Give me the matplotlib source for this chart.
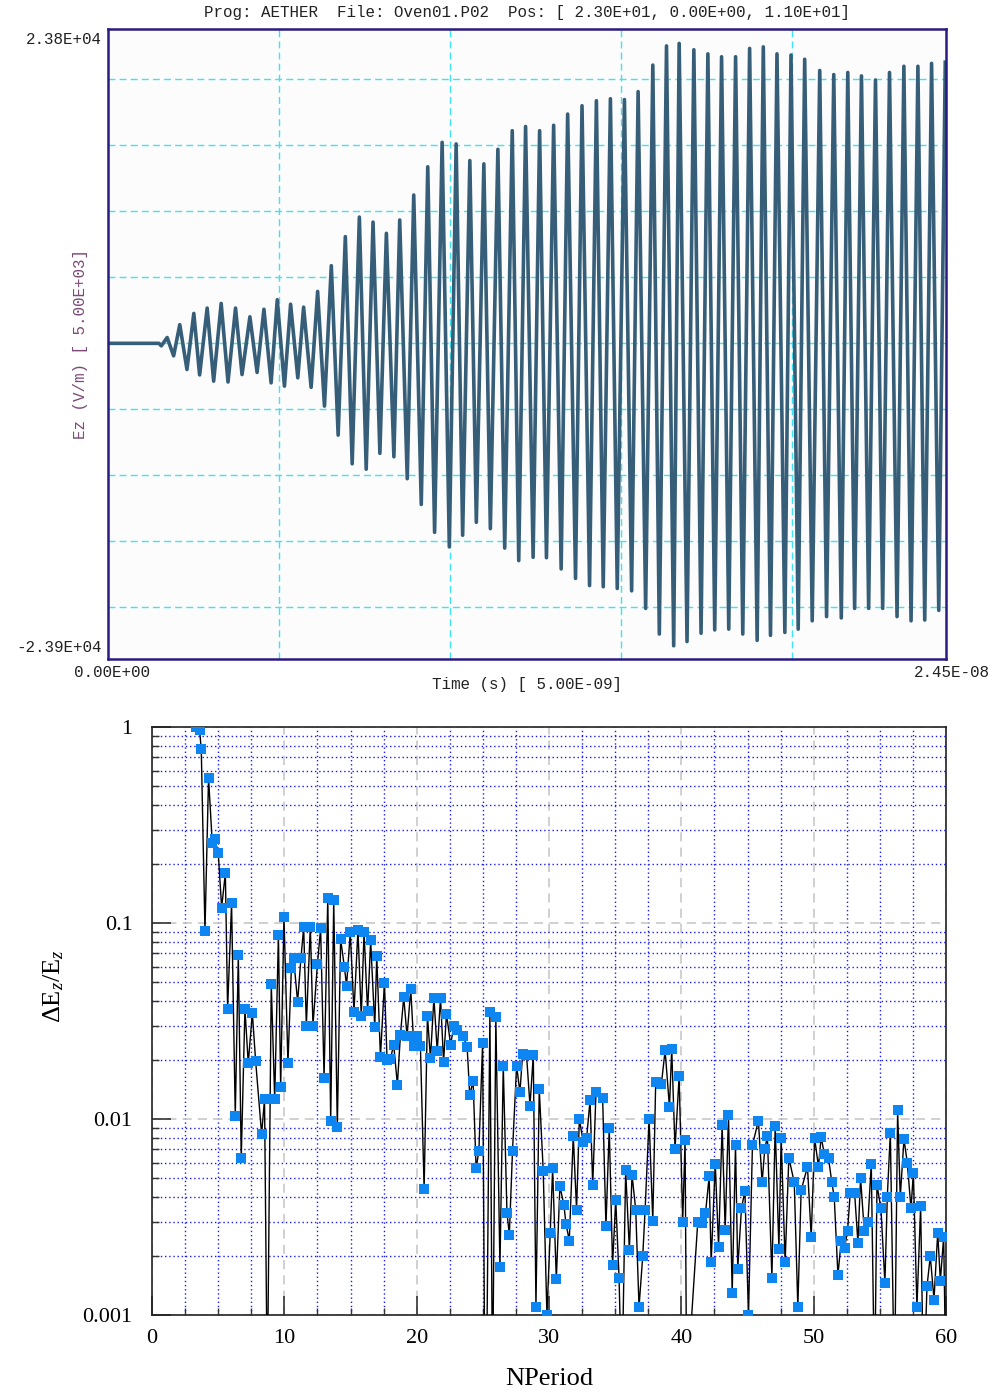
import numpy as np
from matplotlib import pyplot as plt
from matplotlib.ticker import MultipleLocator, LogLocator, NullFormatter

plt.rcParams['mathtext.fontset'] = 'custom'
plt.rcParams['mathtext.rm'] = 'Liberation Serif'
plt.rcParams['mathtext.it'] = 'Liberation Serif:italic'

# upper panel: Ez probe signal, one point per half-cycle extremum (time in ns)
t_ns = [0, 1.49, 1.56, 1.73, 1.92, 2.10, 2.31, 2.51, 2.68, 2.90, 3.09, 3.31,
        3.51, 3.73, 3.92, 4.15, 4.36, 4.56, 4.77, 4.95, 5.16, 5.34,
        5.55, 5.72, 5.94, 6.13, 6.33, 6.53, 6.73, 6.94, 7.14, 7.35,
        7.55, 7.75, 7.95, 8.14, 8.36, 8.53,
        8.75, 8.94, 9.16, 9.35, 9.55, 9.77, 9.98, 10.18, 10.37, 10.58,
        10.77, 10.99, 11.18, 11.40, 11.60, 11.82, 12.01, 12.21, 12.43, 12.62,
        12.82, 13.03, 13.25, 13.44, 13.67, 13.86, 14.08, 14.28, 14.48, 14.69,
        14.89, 15.10, 15.31, 15.50, 15.72, 15.93, 16.12, 16.33, 16.54, 16.70,
        16.93, 17.13, 17.34, 17.54, 17.74, 17.94, 18.15, 18.35, 18.56, 18.76,
        18.98, 19.16, 19.37, 19.56, 19.79, 19.97, 20.18, 20.37, 20.59, 20.81,
        21.01, 21.22, 21.44, 21.63, 21.83, 22.03, 22.24, 22.44, 22.65, 22.85,
        23.07, 23.27, 23.48, 23.68, 23.88, 24.08, 24.29, 24.48]
ez = [0, 0, -190, 440, -945, 1415, -1980, 2265, -2390, 2670, -2860, 3020,
      -2925, 2670, -2360, 2010, -2200, 2580, -2990, 3300, -3240, 2960,
      -2610, 2740, -3330, 3930, -4750, 5880, -6950, 8080, -9120, 9560,
      -9530, 9180, -8330, 8330, -8590, 9340,
      -10250, 11230, -12200, 13370, -14310, 15220, -15410, 15100, -14530, 13840,
      -13550, 13590, -14030, 14690, -15500, 16100, -16450, 16420, -16200, 16100,
      -16230, 16510, -17080, 17360, -17800, 17990, -18340, 18370, -18430, 18520,
      -18560, 18460, -18740, 19060, -20070, 21070, -22010, 22520, -22900, 22710,
      -22580, 22230, -21950, 21920, -21700, 21700, -21640, 21700, -22010, 22330,
      -22490, 22450, -22110, 21920, -21890, 21830, -21640, 21510, -21010, 20660,
      -20690, 20350, -20790, 20510, -20070, 20250, -20070, 19940, -20070, 20510,
      -20690, 20980, -21010, 20980, -20950, 21200, -20220, 21290]

# lower panel: relative change of Ez per period (4e-4 = below the axis)
nperiod = [3.29, 3.59, 3.72, 4.00, 4.27, 4.55, 4.75, 5.00, 5.26, 5.54,
           5.71, 6.01, 6.29, 6.52, 6.74, 7.02, 7.27, 7.58, 7.83, 8.28,
           8.50, 8.71, 9.01, 9.27, 9.55, 9.72, 9.97, 10.27, 10.53, 10.70,
           11.00, 11.25, 11.46, 11.66, 11.96, 12.16, 12.50, 12.74, 13.00, 13.28,
           13.50, 13.73, 14.00, 14.25, 14.53, 14.70, 14.98, 15.26, 15.56, 15.81,
           16.02, 16.29, 16.52, 16.83, 16.98, 17.26, 17.56, 17.76, 18.01, 18.26,
           18.54, 18.77, 19.02, 19.27, 19.55, 19.78, 20.03, 20.28, 20.56, 20.81,
           21.04, 21.30, 21.55, 21.80, 22.03, 22.25, 22.56, 22.81, 23.06, 23.51,
           23.81, 24.01, 24.26, 24.49, 24.70, 24.98, 25.15, 25.27, 25.53, 25.73,
           25.98, 26.29, 26.54, 26.82, 27.00, 27.24, 27.55, 27.80, 28.00, 28.30,
           28.56, 28.81, 29.01, 29.26, 29.56, 29.84, 30.09, 30.27, 30.55, 30.82,
           31.12, 31.28, 31.53, 31.83, 32.08, 32.29, 32.59, 32.84, 33.10, 33.30,
           33.55, 34.05, 34.30, 34.55, 34.80, 35.04, 35.29, 35.50, 35.79, 36.07,
           36.27, 36.55, 36.80, 37.08, 37.26, 37.56, 37.84, 38.06, 38.49, 38.77,
           39.10, 39.27, 39.52, 39.83, 40.10, 40.28, 40.40, 41.24, 41.54, 41.82,
           42.10, 42.25, 42.56, 42.81, 43.08, 43.31, 43.56, 43.84, 44.09, 44.26,
           44.54, 44.80, 45.07, 45.37, 45.82, 46.10, 46.30, 46.50, 46.84, 47.09,
           47.37, 47.54, 47.84, 48.12, 48.53, 48.80, 49.05, 49.53, 49.81, 50.07,
           50.36, 50.56, 50.81, 51.12, 51.37, 51.55, 51.83, 52.08, 52.33, 52.56,
           52.76, 53.09, 53.34, 53.54, 53.82, 54.10, 54.35, 54.60, 54.78, 55.08,
           55.38, 55.56, 55.79, 56.10, 56.34, 56.54, 56.82, 57.07, 57.35, 57.53,
           57.80, 58.08, 58.30, 58.56, 58.81, 59.09, 59.37, 59.57, 59.82, 60.00]
dez = [1.0, 0.97, 0.77, 0.091, 0.55, 0.257, 0.267, 0.229, 0.12, 0.18,
       0.0365, 0.126, 0.0104, 0.069, 0.0063, 0.0365, 0.0193, 0.0347, 0.0197, 0.0084,
       0.0126, 4e-4, 0.049, 0.0126, 0.087, 0.0146, 0.108, 0.0193, 0.059, 0.066,
       0.0397, 0.066, 0.095, 0.030, 0.096, 0.030, 0.062, 0.094, 0.0162, 0.135,
       0.0098, 0.131, 0.0091, 0.083, 0.060, 0.048, 0.0896, 0.0353, 0.0925, 0.0334,
       0.090, 0.0354, 0.0817, 0.0294, 0.068, 0.0207, 0.0496, 0.0201, 0.0202, 0.024,
       0.015, 0.0269, 0.0419, 0.0265, 0.046, 0.0237, 0.0266, 0.0237, 0.0044, 0.0337,
       0.0204, 0.0415, 0.0222, 0.0415, 0.0196, 0.0345, 0.024, 0.0298, 0.0285, 0.0265,
       0.0234, 0.0132, 0.0157, 0.0056, 0.0069, 0.0245, 4e-4, 4e-4, 0.0353, 4e-4,
       0.033, 0.00175, 0.0187, 0.00333, 0.00257, 0.0069, 0.0187, 0.0137, 0.0214, 0.0212,
       0.0117, 0.0212, 0.0011, 0.0142, 0.00546, 0.001, 0.00263, 0.0056, 0.00152, 0.00454,
       0.00366, 0.00292, 0.0024, 0.0082, 0.00345, 0.010, 0.0076, 0.008, 0.0125, 0.0046,
       0.0138, 0.0128, 0.00284, 0.009, 0.0018, 0.00387, 0.00155, 4e-4, 0.0055, 0.00215,
       0.0052, 0.00345, 0.0011, 0.002, 0.00345, 0.010, 0.00303, 0.0155, 0.0151, 0.0224,
       0.0115, 0.0229, 0.00703, 0.0166, 0.003, 0.0078, 4e-4, 0.003, 0.00294, 0.0033,
       0.0051, 0.00186, 0.00593, 0.00223, 0.0093, 0.00272, 0.0105, 0.00129, 0.00736, 0.00172,
       0.0035, 0.0043, 0.001, 0.00736, 0.0098, 0.00475, 0.007, 0.0082, 0.00155, 0.00925,
       0.00218, 0.008, 0.00186, 0.00635, 0.00475, 0.0011, 0.00433, 0.00571, 0.0025, 0.008,
       0.00571, 0.0081, 0.0066, 0.0063, 0.00475, 0.004, 0.0016, 0.0024, 0.0022, 0.0027,
       0.0042, 0.0042, 0.00234, 0.005, 0.0027, 0.003, 0.0059, 4e-4, 0.0046, 0.0035,
       0.00146, 0.004, 0.0085, 4e-4, 0.0111, 0.004, 0.0079, 0.006, 0.0035, 0.0053,
       0.0011, 0.0036, 4e-4, 0.0014, 0.002, 0.0012, 0.00263, 0.0015, 0.0025, 4e-4]

ytick_vals = [0.001, 0.01, 0.1, 1]
ytick_text = ['0.001', '0.01', '0.1', '1']
xtick_vals = [0, 10, 20, 30, 40, 50, 60]

fig = plt.figure(figsize=(9.95, 13.95), dpi=100)

# ---------------- top: AETHER probe plot ----------------
mono = 'Liberation Mono'
ax1 = fig.add_axes([0.1085, 0.5276, 0.8422, 0.4516])
ax1.set_facecolor('#fcfcfc')
ax1.plot(t_ns, ez, color='#365e78', lw=2.6, solid_joinstyle='round')
ax1.set_xlim(0, 24.5)
ax1.set_ylim(-23900, 23800)
ax1.set_xticks([5, 10, 15, 20])
ax1.set_yticks([-20000, -15000, -10000, -5000, 0, 5000, 10000, 15000, 20000])
ax1.tick_params(length=0, labelbottom=False, labelleft=False)
ax1.grid(True, color='#3ee4f4', ls=(0, (5, 3)), lw=1.0)
ax1.set_axisbelow(True)
for s in ax1.spines.values():
    s.set_color('#2b1b80')
    s.set_linewidth(1.8)

tk = dict(family=mono, fontsize=11.4, color='#222222', transform=ax1.transAxes)
ax1.text(0.5, 1.027, 'Prog: AETHER  File: Oven01.P02  Pos: [ 2.30E+01, 0.00E+00, 1.10E+01]',
         ha='center', va='center', **tk)
ax1.text(-0.007, 0.983, '2.38E+04', ha='right', va='center', **tk)
ax1.text(-0.007, 0.0175, '-2.39E+04', ha='right', va='center', **tk)
ax1.text(0.005, -0.022, '0.00E+00', ha='center', va='center', **tk)
ax1.text(1.007, -0.022, '2.45E-08', ha='center', va='center', **tk)
ax1.text(0.5, -0.041, 'Time (s) [ 5.00E-09]', ha='center', va='center', **tk)
ax1.text(-0.033, 0.5, 'Ez (V/m) [ 5.00E+03]', ha='center', va='center', rotation=90,
         family=mono, fontsize=11.4, color='#7a4a78', transform=ax1.transAxes)

# ---------------- bottom: dEz/Ez vs NPeriod ----------------
serif = 'Liberation Serif'
ax2 = fig.add_axes([0.1528, 0.0573, 0.798, 0.4215])
ax2.set_yscale('log')
ax2.plot(nperiod, dez, color='black', lw=1.0, zorder=3)
ax2.plot(nperiod, dez, ls='none', marker='s', ms=6.5, mew=0, color='#0d86f2', zorder=4)
ax2.set_xlim(0, 60)
ax2.set_ylim(0.001, 1)

ax2.set_xticks(xtick_vals)
ax2.set_xticklabels([str(v) for v in xtick_vals])
ax2.xaxis.set_minor_locator(MultipleLocator(2.5))
ax2.set_yticks(ytick_vals)
ax2.set_yticklabels(ytick_text)
ax2.yaxis.set_minor_locator(LogLocator(base=10, subs=np.arange(2, 10)))
ax2.yaxis.set_minor_formatter(NullFormatter())

ax2.tick_params(which='major', direction='in', length=14, width=1.2, color='#333333', pad=10)
ax2.tick_params(which='minor', direction='in', length=5, width=1.0, color='#333333')
ax2.tick_params(axis='y', which='major', pad=14)
for lab in ax2.get_xticklabels() + ax2.get_yticklabels():
    lab.set_family(serif)
    lab.set_fontsize(16)

ax2.grid(True, which='major', color='#c4c4c4', ls=(0, (6, 4)), lw=1.1)
ax2.grid(True, which='minor', color='#1a1aff', ls=(0, (1, 2)), lw=1.0)
ax2.set_axisbelow(True)
for s in ax2.spines.values():
    s.set_color('#222222')
    s.set_linewidth(1.2)

ax2.set_xlabel('NPeriod', family=serif, fontsize=19)
ax2.xaxis.set_label_coords(0.5, -0.09)
ax2.set_ylabel(r'$\Delta\mathrm{E}_z/\mathrm{E}_z$', fontsize=19)
ax2.yaxis.set_label_coords(-0.108, 0.56)

plt.savefig('out.png', dpi=100)
